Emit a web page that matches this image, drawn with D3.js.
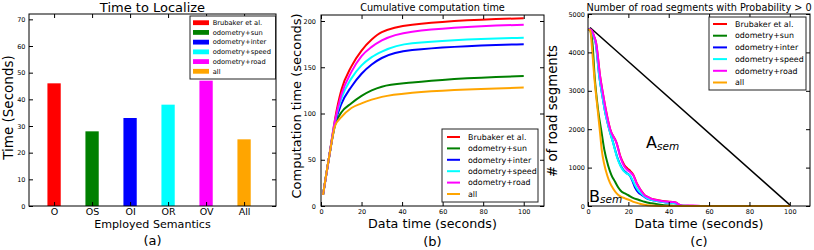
<!DOCTYPE html>
<html><head><meta charset="utf-8">
<script src="https://cdn.jsdelivr.net/npm/d3@7"></script>
<style>body{margin:0;background:#fff} text{font-family:"DejaVu Sans",sans-serif}</style>
</head><body><svg id="c" width="814" height="250"></svg>
<script>
// ---------- data ----------
const categories = ["O","OS","OI","OR","OV","All"];
const barValues = [46,28,33,38,47,25];
const seriesNames = ["Brubaker et al.","odometry+sun","odometry+inter","odometry+speed","odometry+road","all"];
const seriesColors = ["#ff0000","#008000","#0000ff","#00ffff","#ff00ff","#ffa500"];
const ticksA = [0,10,20,30,40,50,60,70];
const ticksB = [0,50,100,150,200];
const ticksC = [0,1000,2000,3000,4000,5000];
const ticksTime = [0,20,40,60,80,100];

// cumulative computation time (b)
const cumX      = [1, 4, 7, 10, 15, 20, 25, 30, 45, 100];
const cumRed    = [12, 53, 95, 125, 151, 168, 180, 188, 196, 203];
const cumSun    = [12, 53, 88, 101, 111, 119, 125, 129, 133.5, 140.5];
const cumInter  = [12, 53, 90, 110, 129, 143, 153, 160, 168.6, 175];
const cumSpeed  = [12, 53, 92, 116, 138, 152, 161, 167, 176, 182];
const cumRoad   = [12, 53, 93, 120, 145, 162, 172, 179, 188.5, 196];
const cumAll    = [12, 53, 87, 96, 106, 111, 115, 118, 122.5, 128];
const cumSeries = [cumRed, cumSun, cumInter, cumSpeed, cumRoad, cumAll];

// number of road segments (c): [time, count]
const segRed = [[0,4600],[1.5,4590],[3,4420],[4,4250],[6,3380],[7.5,2900],[8.8,2520],[11,2000],[14.2,1640],[16,1300],[18,1070],[19.5,980],[21,910],[22.5,810],[24.1,600],[25.5,470],[26.6,380],[28,290],[29.5,240],[31,200],[33,170],[37,130],[41,110],[43.5,95],[45,40],[47,5],[60,0],[100,0]];
const segSun = [[0,4600],[1,4580],[1.6,4480],[2.2,4240],[3.3,3370],[5,2500],[6.8,1890],[8.1,1460],[10,1050],[11.5,820],[13.4,630],[15,480],[16.7,370],[18.5,320],[20,280],[22,220],[25.7,150],[28,110],[31.5,70],[35,40],[40,10],[45,0],[100,0]];
const segInter = [[0,4600],[1.5,4580],[2.8,4420],[3.8,4240],[5.6,3370],[7,2900],[8.3,2500],[10.5,2000],[12.5,1640],[14.5,1270],[16.3,1040],[17.5,940],[19.1,860],[21,770],[22.3,610],[23.3,480],[25,350],[26.5,290],[29,200],[33,140],[38,100],[42,80],[44,60],[46,5],[55,0],[100,0]];
const segSpeed = [[0,4600],[1.5,4580],[2.8,4420],[3.8,4240],[5.6,3370],[7,2900],[8.3,2500],[10.5,2000],[12.5,1630],[14.5,1250],[16.3,1020],[17.5,920],[19.1,850],[21,780],[22.3,650],[23.5,520],[25,400],[26.5,320],[29,210],[33,140],[38,100],[42,80],[44,60],[46,5],[55,0],[100,0]];
const segRoad = [[0,4600],[1.5,4590],[3,4420],[4,4240],[6,3370],[7.5,2890],[8.8,2500],[11,1990],[14.2,1630],[16,1280],[18,1030],[19.5,940],[21,880],[22.5,790],[24.1,590],[25.5,460],[26.6,370],[28,280],[29.5,235],[31,195],[33,165],[37,125],[41,105],[43.5,90],[45,35],[47,5],[52,15],[57,0],[100,0]];
const segAll = [[0,4600],[1,4580],[1.4,4480],[1.8,4240],[3.1,3370],[4.8,2500],[6,1890],[6.8,1460],[8,1100],[9.5,800],[10.9,600],[12.5,450],[14.2,330],[16,250],[18.3,200],[20.8,150],[23,100],[25.7,60],[28,30],[31,10],[36,0],[100,0]];
const segSeries = [segRed, segSun, segInter, segSpeed, segRoad, segAll];
const semLine = [[1,4650],[100,30]];

// ---------- drawing ----------
const svg = d3.select("#c");

function frameAxes(g, x, y, box, xTicks, xFmt, yTicks, fsX, padX, fsY, padY) {
  const mk = (ax) => ax.tickSizeInner(-4).tickSizeOuter(0);
  g.append("g").attr("transform",`translate(0,${box.b})`)
    .call(mk(d3.axisBottom(x)).tickValues(xTicks).tickFormat(xFmt).tickPadding(padX))
    .call(s=>{s.select(".domain").remove(); s.selectAll("text").attr("font-size",fsX).attr("font-family","DejaVu Sans").attr("fill","#000");});
  g.append("g").attr("transform",`translate(0,${box.t})`)
    .call(mk(d3.axisTop(x)).tickValues(xTicks).tickFormat(()=>""))
    .call(s=>s.select(".domain").remove());
  g.append("g").attr("transform",`translate(${box.l},0)`)
    .call(mk(d3.axisLeft(y)).tickValues(yTicks).tickFormat(d3.format("d")).tickPadding(padY))
    .call(s=>{s.select(".domain").remove(); s.selectAll("text").attr("font-size",fsY).attr("font-family","DejaVu Sans").attr("fill","#000");});
  g.append("g").attr("transform",`translate(${box.r},0)`)
    .call(mk(d3.axisRight(y)).tickValues(yTicks).tickFormat(()=>""))
    .call(s=>s.select(".domain").remove());
  g.append("rect").attr("x",box.l).attr("y",box.t).attr("width",box.r-box.l).attr("height",box.b-box.t)
    .attr("fill","none").attr("stroke","#000").attr("stroke-width",1);
}

function label(x, y, txt, fs, rot) {
  const t = svg.append("text").attr("text-anchor","middle").attr("font-size",fs).attr("fill","#000").text(txt);
  if (rot) t.attr("transform",`translate(${x},${y}) rotate(-90)`); else t.attr("x",x).attr("y",y);
  return t;
}

// ---- Panel (a) ----
const boxA = {l:29, r:276, t:14, b:206};
const xA = d3.scaleLinear().domain([-0.66, 5.84]).range([boxA.l, boxA.r]);
const yA = d3.scaleLinear().domain([0, 72]).range([boxA.b, boxA.t]);
const gA = svg.append("g");
const bw = 0.35;
gA.selectAll("rect.bar").data(barValues).join("rect").attr("class","bar")
  .attr("x",(d,i)=>xA(i-bw/2)).attr("width",xA(bw)-xA(0))
  .attr("y",d=>yA(d)).attr("height",d=>yA(0)-yA(d))
  .attr("fill",(d,i)=>seriesColors[i]);
frameAxes(gA, xA, yA, boxA, d3.range(categories.length), i=>categories[i], ticksA, 9.5, 2.5, 6.5, 3.5);
const lgA = gA.append("g");
lgA.append("rect").attr("x",190).attr("y",16).attr("width",85.5).attr("height",63).attr("fill","#fff").attr("stroke","#222").attr("stroke-width",1);
seriesNames.forEach((n,i)=>{
  const cy = 22.7 + i*9.72;
  lgA.append("rect").attr("x",193).attr("y",cy-2.4).attr("width",16).attr("height",4.8).attr("fill",seriesColors[i]);
  lgA.append("text").attr("x",212.7).attr("y",cy).attr("dy","0.35em").attr("font-size",6.7).text(n);
});
label(152.5, 12, "Time to Localize", 13);
label(152.5, 228, "Employed Semantics", 11.1);
label(152.5, 244.5, "(a)", 13);
label(13, 107.5, "Time (Seconds)", 13.5, true);

// ---- Panel (b) ----
const boxB = {l:321, r:544, t:15, b:206};
const xB = d3.scaleLinear().domain([0,110]).range([boxB.l, boxB.r]);
const yB = d3.scaleLinear().domain([0,206.5]).range([boxB.b, boxB.t]);
const gB = svg.append("g");
const lineB = d3.line().x((d,i)=>xB(cumX[i])).y(d=>yB(d)).curve(d3.curveMonotoneX);
cumSeries.forEach((s,i)=>{
  gB.append("path").attr("d",lineB(s)).attr("fill","none").attr("stroke",seriesColors[i]).attr("stroke-width",2);
});
frameAxes(gB, xB, yB, boxB, ticksTime, d3.format("d"), ticksB, 6.5, 3, 6.5, 5);
const lgB = gB.append("g");
lgB.append("rect").attr("x",442).attr("y",129).attr("width",96).attr("height",73).attr("fill","#fff").attr("stroke","#222").attr("stroke-width",1);
seriesNames.forEach((n,i)=>{
  const cy = 137 + i*11.4;
  lgB.append("line").attr("x1",447).attr("x2",460).attr("y1",cy).attr("y2",cy).attr("stroke",seriesColors[i]).attr("stroke-width",2);
  lgB.append("text").attr("x",468).attr("y",cy).attr("dy","0.35em").attr("font-size",7.9).text(n);
});
label(432.5, 10.5, "Cumulative computation time", 9.7);
label(432.5, 227.5, "Data time (seconds)", 12.7);
label(432.5, 246, "(b)", 13);
label(301, 106, "Computation time (seconds)", 13, true);

// ---- Panel (c) ----
const boxC = {l:588, r:810, t:14, b:206};
const xC = d3.scaleLinear().domain([0,110]).range([boxC.l, boxC.r]);
const yC = d3.scaleLinear().domain([0,5000]).range([boxC.b, boxC.t]);
const gC = svg.append("g");
const lineC = d3.line().x(d=>xC(d[0])).y(d=>yC(d[1])).curve(d3.curveMonotoneX);
gC.append("path").attr("d",d3.line().x(d=>xC(d[0])).y(d=>yC(d[1]))(semLine)).attr("fill","none").attr("stroke","#000").attr("stroke-width",1.5);
segSeries.forEach((s,i)=>{
  gC.append("path").attr("d",lineC(s)).attr("fill","none").attr("stroke",seriesColors[i]).attr("stroke-width",2);
});
frameAxes(gC, xC, yC, boxC, ticksTime, d3.format("d"), ticksC, 6.5, 3, 6.5, 3);
const lgC = gC.append("g");
lgC.append("rect").attr("x",709).attr("y",17).attr("width",97).attr("height",73).attr("fill","#fff").attr("stroke","#222").attr("stroke-width",1);
seriesNames.forEach((n,i)=>{
  const cy = 24 + i*11.7;
  lgC.append("line").attr("x1",713).attr("x2",727).attr("y1",cy).attr("y2",cy).attr("stroke",seriesColors[i]).attr("stroke-width",2);
  lgC.append("text").attr("x",735).attr("y",cy).attr("dy","0.35em").attr("font-size",7.9).text(n);
});
const aT = svg.append("text").attr("x",646).attr("y",148).attr("font-size",16).text("A");
aT.append("tspan").attr("font-size",10.5).attr("font-style","italic").attr("dy",1.5).text("sem");
const bT = svg.append("text").attr("x",589).attr("y",201.5).attr("font-size",16).text("B");
bT.append("tspan").attr("font-size",10.5).attr("font-style","italic").attr("dy",1.5).text("sem");
label(699, 10.5, "Number of road segments with Probability > 0", 9.7);
label(699, 227.5, "Data time (seconds)", 12.7);
label(699, 246, "(c)", 13);
label(557, 111, "# of road segments", 13.3, true);
</script>
</body></html>
